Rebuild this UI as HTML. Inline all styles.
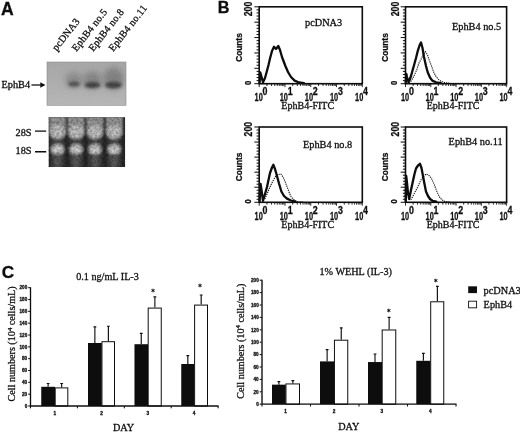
<!DOCTYPE html>
<html><head><meta charset="utf-8"><title>Figure</title>
<style>
html,body{margin:0;padding:0;background:#fff;}
body{width:520px;height:432px;overflow:hidden;}
svg{display:block;}
text{font-family:"Liberation Serif",serif;fill:#0c0c0c;stroke:#0c0c0c;stroke-width:0.28px;}
.ss{font-family:"Liberation Sans",sans-serif;}
</style></head><body>
<svg width="520" height="432" viewBox="0 0 520 432">
<defs>
<filter id="b1" x="-50%" y="-50%" width="200%" height="200%"><feGaussianBlur stdDeviation="1.6"/></filter>
<filter id="b2" x="-50%" y="-50%" width="200%" height="200%"><feGaussianBlur stdDeviation="3"/></filter>
<filter id="b3" x="-50%" y="-50%" width="200%" height="200%"><feGaussianBlur stdDeviation="1.1"/></filter>
<filter id="soft" filterUnits="userSpaceOnUse" x="0" y="0" width="520" height="432"><feGaussianBlur stdDeviation="0.42"/></filter>
<filter id="noiseA" x="0" y="0" width="100%" height="100%">
<feTurbulence type="fractalNoise" baseFrequency="0.55" numOctaves="2" seed="3" result="n"/>
<feColorMatrix in="n" type="matrix" values="0 0 0 0 0.5  0 0 0 0 0.5  0 0 0 0 0.5  0.9 0 0 0 -0.33"/>
</filter>
<filter id="noiseG" x="0" y="0" width="100%" height="100%">
<feTurbulence type="fractalNoise" baseFrequency="0.42" numOctaves="3" seed="7" result="n"/>
<feColorMatrix in="n" type="matrix" values="0 0 0 0 0  0 0 0 0 0  0 0 0 0 0  1.6 0 0 0 -0.55"/>
</filter>
<linearGradient id="blotbg" x1="0" y1="0" x2="0" y2="1">
<stop offset="0" stop-color="#a6a6a6"/><stop offset="0.45" stop-color="#adadad"/><stop offset="1" stop-color="#b6b6b6"/>
</linearGradient>
<clipPath id="cblot"><rect x="47" y="62" width="79" height="43.5"/></clipPath>
<clipPath id="cgel"><rect x="48.5" y="117.3" width="76.6" height="49.8"/></clipPath>
</defs>
<rect width="520" height="432" fill="#fff"/>
<g filter="url(#soft)">

<g id="panelA">
<text class="ss" x="0.9" y="14.7" font-size="17.6" font-weight="bold" fill="#000">A</text>
<text x="56.8" y="51.5" font-size="10.2" letter-spacing="0.2" transform="rotate(-52 56.8 51.5)">pcDNA3</text>
<text x="76.5" y="52" font-size="10.2" letter-spacing="0.2" transform="rotate(-52 76.5 52)">EphB4 no.5</text>
<text x="93.3" y="52" font-size="10.2" letter-spacing="0.2" transform="rotate(-52 93.3 52)">EphB4 no.8</text>
<text x="113.3" y="52" font-size="10.2" letter-spacing="0.2" transform="rotate(-52 113.3 52)">EphB4 no.11</text>
<g clip-path="url(#cblot)">
<rect x="47" y="62" width="79" height="43.5" fill="url(#blotbg)"/>
<ellipse cx="74" cy="80" rx="9" ry="8" fill="#888" filter="url(#b2)"/>
<ellipse cx="92.5" cy="80" rx="10" ry="9" fill="#828282" filter="url(#b2)"/>
<ellipse cx="113.5" cy="78.5" rx="10.5" ry="11" fill="#7e7e7e" filter="url(#b2)"/>
<ellipse cx="74" cy="84" rx="6" ry="2.6" fill="#4a4a4a" filter="url(#b1)"/>
<ellipse cx="92.5" cy="85" rx="8" ry="3" fill="#3a3a3a" filter="url(#b1)"/>
<ellipse cx="113.5" cy="85" rx="8.5" ry="3.2" fill="#3a3a3a" filter="url(#b1)"/>
<rect x="47" y="62" width="79" height="43.5" filter="url(#noiseA)" opacity="0.35"/>
</g>
<rect x="47" y="62" width="79" height="43.5" fill="none" stroke="#8a8a8a" stroke-width="0.6"/>
<text x="1.5" y="88.3" font-size="10.3">EphB4</text>
<path d="M31.5 85 H42" stroke="#111" stroke-width="1.3" fill="none"/>
<path d="M45.5 85 L40.3 82.2 L40.3 87.8 Z" fill="#111"/>
<g clip-path="url(#cgel)">
<rect x="48.5" y="117" width="77" height="51" fill="#292929"/>
<rect x="50.6" y="117" width="14" height="50" fill="#3e3e3e" filter="url(#b3)"/>
<path d="M49.1 116 h17 v16.5 a8.5 7.5 0 0 1 -17 0 z" fill="#959595" filter="url(#b3)"/>
<ellipse cx="57.6" cy="131.5" rx="7" ry="6.5" fill="#c2c2c2" filter="url(#b1)"/>
<ellipse cx="57.6" cy="149.3" rx="7.2" ry="6.6" fill="#9a9a9a" filter="url(#b3)"/>
<ellipse cx="57.6" cy="149.8" rx="5" ry="3.8" fill="#d6d6d6" filter="url(#b1)"/>
<rect x="54.1" y="155" width="7" height="13" fill="#5a5a5a" filter="url(#b1)"/>
<rect x="69.2" y="117" width="14" height="50" fill="#3e3e3e" filter="url(#b3)"/>
<path d="M67.7 116 h17 v16.5 a8.5 7.5 0 0 1 -17 0 z" fill="#959595" filter="url(#b3)"/>
<ellipse cx="76.2" cy="131.5" rx="7" ry="6.5" fill="#c2c2c2" filter="url(#b1)"/>
<ellipse cx="76.2" cy="149.3" rx="7.2" ry="6.6" fill="#9a9a9a" filter="url(#b3)"/>
<ellipse cx="76.2" cy="149.8" rx="5" ry="3.8" fill="#d6d6d6" filter="url(#b1)"/>
<rect x="72.7" y="155" width="7" height="13" fill="#5a5a5a" filter="url(#b1)"/>
<rect x="88" y="117" width="14" height="50" fill="#3e3e3e" filter="url(#b3)"/>
<path d="M86.5 116 h17 v16.5 a8.5 7.5 0 0 1 -17 0 z" fill="#959595" filter="url(#b3)"/>
<ellipse cx="95" cy="131.5" rx="7" ry="6.5" fill="#c2c2c2" filter="url(#b1)"/>
<ellipse cx="95" cy="149.3" rx="7.2" ry="6.6" fill="#9a9a9a" filter="url(#b3)"/>
<ellipse cx="95" cy="149.8" rx="5" ry="3.8" fill="#d6d6d6" filter="url(#b1)"/>
<rect x="91.5" y="155" width="7" height="13" fill="#5a5a5a" filter="url(#b1)"/>
<rect x="107.2" y="117" width="14" height="50" fill="#3e3e3e" filter="url(#b3)"/>
<path d="M105.7 116 h17 v16.5 a8.5 7.5 0 0 1 -17 0 z" fill="#959595" filter="url(#b3)"/>
<ellipse cx="114.2" cy="131.5" rx="7" ry="6.5" fill="#c2c2c2" filter="url(#b1)"/>
<ellipse cx="114.2" cy="149.3" rx="7.2" ry="6.6" fill="#9a9a9a" filter="url(#b3)"/>
<ellipse cx="114.2" cy="149.8" rx="5" ry="3.8" fill="#d6d6d6" filter="url(#b1)"/>
<rect x="110.7" y="155" width="7" height="13" fill="#5a5a5a" filter="url(#b1)"/>
<rect x="48.5" y="117" width="77" height="51" filter="url(#noiseG)" opacity="0.4"/>
</g>
<text x="15.5" y="136" font-size="10.3">28S</text>
<text x="15.5" y="154.3" font-size="10.3">18S</text>
<path d="M35 130.5 h11.2 v1.3 h-11.2z M35 151.1 h11.2 v1.3 h-11.2z" fill="#0c0c0c"/>
</g>
<g id="panelB">
<text class="ss" x="217.7" y="13.4" font-size="16.2" font-weight="bold" fill="#000">B</text>
<rect x="259.2" y="6.8" width="103.1" height="76.9" fill="#fff" stroke="#0a0a0a" stroke-width="1.6"/>
<path d="M259.2 83.7 h-4.8 M259.2 80.62 h-2.6 M259.2 77.55 h-2.6 M259.2 74.47 h-2.6 M259.2 71.4 h-2.6 M259.2 68.32 h-4.8 M259.2 65.24 h-2.6 M259.2 62.17 h-2.6 M259.2 59.09 h-2.6 M259.2 56.02 h-2.6 M259.2 52.94 h-4.8 M259.2 49.86 h-2.6 M259.2 46.79 h-2.6 M259.2 43.71 h-2.6 M259.2 40.64 h-2.6 M259.2 37.56 h-4.8 M259.2 34.48 h-2.6 M259.2 31.41 h-2.6 M259.2 28.33 h-2.6 M259.2 25.26 h-2.6 M259.2 22.18 h-4.8 M259.2 19.1 h-2.6 M259.2 16.03 h-2.6 M259.2 12.95 h-2.6 M259.2 9.88 h-2.6 M259.2 6.8 h-4.8" stroke="#0a0a0a" stroke-width="1" fill="none"/>
<path d="M259.2 83.7 v3.4 M266.96 83.7 v2.3 M271.5 83.7 v2.3 M274.72 83.7 v2.3 M277.22 83.7 v2.3 M279.26 83.7 v2.3 M280.98 83.7 v2.3 M282.48 83.7 v2.3 M283.8 83.7 v2.3 M284.98 83.7 v3.4 M292.73 83.7 v2.3 M297.27 83.7 v2.3 M300.49 83.7 v2.3 M302.99 83.7 v2.3 M305.03 83.7 v2.3 M306.76 83.7 v2.3 M308.25 83.7 v2.3 M309.57 83.7 v2.3 M310.75 83.7 v3.4 M318.51 83.7 v2.3 M323.05 83.7 v2.3 M326.27 83.7 v2.3 M328.77 83.7 v2.3 M330.81 83.7 v2.3 M332.53 83.7 v2.3 M334.03 83.7 v2.3 M335.35 83.7 v2.3 M336.52 83.7 v3.4 M344.28 83.7 v2.3 M348.82 83.7 v2.3 M352.04 83.7 v2.3 M354.54 83.7 v2.3 M356.58 83.7 v2.3 M358.31 83.7 v2.3 M359.8 83.7 v2.3 M361.12 83.7 v2.3 M362.3 83.7 v3.4" stroke="#0a0a0a" stroke-width="0.85" fill="none"/>
<text class="ss" font-size="11.8" font-weight="bold" stroke-width="0.1" x="254.6" y="101.3" textLength="8.2" lengthAdjust="spacingAndGlyphs">10</text><text class="ss" font-size="10.4" font-weight="bold" stroke-width="0.1" x="262.6" y="95.3" textLength="4.9" lengthAdjust="spacingAndGlyphs">0</text>
<text class="ss" font-size="11.8" font-weight="bold" stroke-width="0.1" x="279.73" y="101.3" textLength="8.2" lengthAdjust="spacingAndGlyphs">10</text><text class="ss" font-size="10.4" font-weight="bold" stroke-width="0.1" x="287.73" y="95.3" textLength="4.9" lengthAdjust="spacingAndGlyphs">1</text>
<text class="ss" font-size="11.8" font-weight="bold" stroke-width="0.1" x="304.86" y="101.3" textLength="8.2" lengthAdjust="spacingAndGlyphs">10</text><text class="ss" font-size="10.4" font-weight="bold" stroke-width="0.1" x="312.86" y="95.3" textLength="4.9" lengthAdjust="spacingAndGlyphs">2</text>
<text class="ss" font-size="11.8" font-weight="bold" stroke-width="0.1" x="329.99" y="101.3" textLength="8.2" lengthAdjust="spacingAndGlyphs">10</text><text class="ss" font-size="10.4" font-weight="bold" stroke-width="0.1" x="337.99" y="95.3" textLength="4.9" lengthAdjust="spacingAndGlyphs">3</text>
<text class="ss" font-size="11.8" font-weight="bold" stroke-width="0.1" x="355.12" y="101.3" textLength="8.2" lengthAdjust="spacingAndGlyphs">10</text><text class="ss" font-size="10.4" font-weight="bold" stroke-width="0.1" x="363.12" y="95.3" textLength="4.9" lengthAdjust="spacingAndGlyphs">4</text>
<text x="307.75" y="109" font-size="10" text-anchor="middle">EphB4-FITC</text>
<text class="ss" font-size="9.8" font-weight="bold" stroke="none" text-anchor="middle" textLength="28.6" lengthAdjust="spacingAndGlyphs" transform="translate(241.8 47.55) rotate(-90)">Counts</text>
<text class="ss" font-size="10.6" font-weight="bold" stroke="none" text-anchor="middle" transform="translate(252.2 9) rotate(-90)" textLength="14.4" lengthAdjust="spacingAndGlyphs">200</text>
<text class="ss" font-size="9.2" font-weight="bold" stroke="none" text-anchor="middle" transform="translate(251 82.8) rotate(-90)" textLength="4.2" lengthAdjust="spacingAndGlyphs">0</text>
<text x="305" y="25.5" font-size="10.3">pcDNA3</text>
<path d="M259.6 83 L260.2 72.3 L261 75 L263 82.3 L265 78 L267 70.8 L268.5 65 L270 58.5 L272 51 L274 46.8 L276 49 L278.3 46 L280 50 L282 57 L285.4 66 L288 72 L291 77 L294.6 80.6 L299 82.5 L304 83.2" stroke="#0a0a0a" stroke-width="2.3" fill="none" stroke-linejoin="round" stroke-linecap="round"/>
<rect x="405.5" y="6.8" width="101.1" height="76.9" fill="#fff" stroke="#0a0a0a" stroke-width="1.6"/>
<path d="M405.5 83.7 h-4.8 M405.5 80.62 h-2.6 M405.5 77.55 h-2.6 M405.5 74.47 h-2.6 M405.5 71.4 h-2.6 M405.5 68.32 h-4.8 M405.5 65.24 h-2.6 M405.5 62.17 h-2.6 M405.5 59.09 h-2.6 M405.5 56.02 h-2.6 M405.5 52.94 h-4.8 M405.5 49.86 h-2.6 M405.5 46.79 h-2.6 M405.5 43.71 h-2.6 M405.5 40.64 h-2.6 M405.5 37.56 h-4.8 M405.5 34.48 h-2.6 M405.5 31.41 h-2.6 M405.5 28.33 h-2.6 M405.5 25.26 h-2.6 M405.5 22.18 h-4.8 M405.5 19.1 h-2.6 M405.5 16.03 h-2.6 M405.5 12.95 h-2.6 M405.5 9.88 h-2.6 M405.5 6.8 h-4.8" stroke="#0a0a0a" stroke-width="1" fill="none"/>
<path d="M405.5 83.7 v3.4 M413.11 83.7 v2.3 M417.56 83.7 v2.3 M420.72 83.7 v2.3 M423.17 83.7 v2.3 M425.17 83.7 v2.3 M426.86 83.7 v2.3 M428.33 83.7 v2.3 M429.62 83.7 v2.3 M430.77 83.7 v3.4 M438.38 83.7 v2.3 M442.83 83.7 v2.3 M445.99 83.7 v2.3 M448.44 83.7 v2.3 M450.44 83.7 v2.3 M452.13 83.7 v2.3 M453.6 83.7 v2.3 M454.89 83.7 v2.3 M456.05 83.7 v3.4 M463.66 83.7 v2.3 M468.11 83.7 v2.3 M471.27 83.7 v2.3 M473.72 83.7 v2.3 M475.72 83.7 v2.3 M477.41 83.7 v2.3 M478.88 83.7 v2.3 M480.17 83.7 v2.3 M481.33 83.7 v3.4 M488.93 83.7 v2.3 M493.38 83.7 v2.3 M496.54 83.7 v2.3 M498.99 83.7 v2.3 M500.99 83.7 v2.3 M502.68 83.7 v2.3 M504.15 83.7 v2.3 M505.44 83.7 v2.3 M506.6 83.7 v3.4" stroke="#0a0a0a" stroke-width="0.85" fill="none"/>
<text class="ss" font-size="11.8" font-weight="bold" stroke-width="0.1" x="400.9" y="101.3" textLength="8.2" lengthAdjust="spacingAndGlyphs">10</text><text class="ss" font-size="10.4" font-weight="bold" stroke-width="0.1" x="408.9" y="95.3" textLength="4.9" lengthAdjust="spacingAndGlyphs">0</text>
<text class="ss" font-size="11.8" font-weight="bold" stroke-width="0.1" x="425.54" y="101.3" textLength="8.2" lengthAdjust="spacingAndGlyphs">10</text><text class="ss" font-size="10.4" font-weight="bold" stroke-width="0.1" x="433.54" y="95.3" textLength="4.9" lengthAdjust="spacingAndGlyphs">1</text>
<text class="ss" font-size="11.8" font-weight="bold" stroke-width="0.1" x="450.19" y="101.3" textLength="8.2" lengthAdjust="spacingAndGlyphs">10</text><text class="ss" font-size="10.4" font-weight="bold" stroke-width="0.1" x="458.19" y="95.3" textLength="4.9" lengthAdjust="spacingAndGlyphs">2</text>
<text class="ss" font-size="11.8" font-weight="bold" stroke-width="0.1" x="474.83" y="101.3" textLength="8.2" lengthAdjust="spacingAndGlyphs">10</text><text class="ss" font-size="10.4" font-weight="bold" stroke-width="0.1" x="482.83" y="95.3" textLength="4.9" lengthAdjust="spacingAndGlyphs">3</text>
<text class="ss" font-size="11.8" font-weight="bold" stroke-width="0.1" x="499.47" y="101.3" textLength="8.2" lengthAdjust="spacingAndGlyphs">10</text><text class="ss" font-size="10.4" font-weight="bold" stroke-width="0.1" x="507.47" y="95.3" textLength="4.9" lengthAdjust="spacingAndGlyphs">4</text>
<text x="453.05" y="109" font-size="10" text-anchor="middle">EphB4-FITC</text>
<text class="ss" font-size="9.8" font-weight="bold" stroke="none" text-anchor="middle" textLength="28.6" lengthAdjust="spacingAndGlyphs" transform="translate(388.1 47.55) rotate(-90)">Counts</text>
<text class="ss" font-size="10.6" font-weight="bold" stroke="none" text-anchor="middle" transform="translate(398.5 9) rotate(-90)" textLength="14.4" lengthAdjust="spacingAndGlyphs">200</text>
<text class="ss" font-size="9.2" font-weight="bold" stroke="none" text-anchor="middle" transform="translate(397.3 82.8) rotate(-90)" textLength="4.2" lengthAdjust="spacingAndGlyphs">0</text>
<text x="452" y="30.3" font-size="10.3">EphB4 no.5</text>
<path d="M410.8 81.5 L414 76 L417 69 L419 63 L421.5 58.5 L423.5 54 L425.5 51.7 L427.5 55 L429.2 60 L431.5 66 L433.8 72.3 L436 76.5 L438.5 79.4 L441 81.3 L444.6 82.5 L450 83.3" stroke="#111" stroke-width="1.15" stroke-dasharray="1.2 1" fill="none" stroke-linejoin="round"/>
<path d="M405.8 83 L406.3 73.8 L407 77 L408.6 82.5 L411 76 L413.8 66 L416 58 L417.8 50.8 L419.5 45.5 L421 42.5 L422.5 48 L424 57 L426 66 L427.7 72.3 L430 77.5 L432.3 80.6 L436 82.3 L441 83.1" stroke="#0a0a0a" stroke-width="2.3" fill="none" stroke-linejoin="round" stroke-linecap="round"/>
<rect x="259.2" y="127" width="103.1" height="75.3" fill="#fff" stroke="#0a0a0a" stroke-width="1.6"/>
<path d="M259.2 202.3 h-4.8 M259.2 199.29 h-2.6 M259.2 196.28 h-2.6 M259.2 193.26 h-2.6 M259.2 190.25 h-2.6 M259.2 187.24 h-4.8 M259.2 184.23 h-2.6 M259.2 181.22 h-2.6 M259.2 178.2 h-2.6 M259.2 175.19 h-2.6 M259.2 172.18 h-4.8 M259.2 169.17 h-2.6 M259.2 166.16 h-2.6 M259.2 163.14 h-2.6 M259.2 160.13 h-2.6 M259.2 157.12 h-4.8 M259.2 154.11 h-2.6 M259.2 151.1 h-2.6 M259.2 148.08 h-2.6 M259.2 145.07 h-2.6 M259.2 142.06 h-4.8 M259.2 139.05 h-2.6 M259.2 136.04 h-2.6 M259.2 133.02 h-2.6 M259.2 130.01 h-2.6 M259.2 127 h-4.8" stroke="#0a0a0a" stroke-width="1" fill="none"/>
<path d="M259.2 202.3 v3.4 M266.96 202.3 v2.3 M271.5 202.3 v2.3 M274.72 202.3 v2.3 M277.22 202.3 v2.3 M279.26 202.3 v2.3 M280.98 202.3 v2.3 M282.48 202.3 v2.3 M283.8 202.3 v2.3 M284.98 202.3 v3.4 M292.73 202.3 v2.3 M297.27 202.3 v2.3 M300.49 202.3 v2.3 M302.99 202.3 v2.3 M305.03 202.3 v2.3 M306.76 202.3 v2.3 M308.25 202.3 v2.3 M309.57 202.3 v2.3 M310.75 202.3 v3.4 M318.51 202.3 v2.3 M323.05 202.3 v2.3 M326.27 202.3 v2.3 M328.77 202.3 v2.3 M330.81 202.3 v2.3 M332.53 202.3 v2.3 M334.03 202.3 v2.3 M335.35 202.3 v2.3 M336.52 202.3 v3.4 M344.28 202.3 v2.3 M348.82 202.3 v2.3 M352.04 202.3 v2.3 M354.54 202.3 v2.3 M356.58 202.3 v2.3 M358.31 202.3 v2.3 M359.8 202.3 v2.3 M361.12 202.3 v2.3 M362.3 202.3 v3.4" stroke="#0a0a0a" stroke-width="0.85" fill="none"/>
<text class="ss" font-size="11.8" font-weight="bold" stroke-width="0.1" x="254.6" y="219.9" textLength="8.2" lengthAdjust="spacingAndGlyphs">10</text><text class="ss" font-size="10.4" font-weight="bold" stroke-width="0.1" x="262.6" y="213.9" textLength="4.9" lengthAdjust="spacingAndGlyphs">0</text>
<text class="ss" font-size="11.8" font-weight="bold" stroke-width="0.1" x="279.73" y="219.9" textLength="8.2" lengthAdjust="spacingAndGlyphs">10</text><text class="ss" font-size="10.4" font-weight="bold" stroke-width="0.1" x="287.73" y="213.9" textLength="4.9" lengthAdjust="spacingAndGlyphs">1</text>
<text class="ss" font-size="11.8" font-weight="bold" stroke-width="0.1" x="304.86" y="219.9" textLength="8.2" lengthAdjust="spacingAndGlyphs">10</text><text class="ss" font-size="10.4" font-weight="bold" stroke-width="0.1" x="312.86" y="213.9" textLength="4.9" lengthAdjust="spacingAndGlyphs">2</text>
<text class="ss" font-size="11.8" font-weight="bold" stroke-width="0.1" x="329.99" y="219.9" textLength="8.2" lengthAdjust="spacingAndGlyphs">10</text><text class="ss" font-size="10.4" font-weight="bold" stroke-width="0.1" x="337.99" y="213.9" textLength="4.9" lengthAdjust="spacingAndGlyphs">3</text>
<text class="ss" font-size="11.8" font-weight="bold" stroke-width="0.1" x="355.12" y="219.9" textLength="8.2" lengthAdjust="spacingAndGlyphs">10</text><text class="ss" font-size="10.4" font-weight="bold" stroke-width="0.1" x="363.12" y="213.9" textLength="4.9" lengthAdjust="spacingAndGlyphs">4</text>
<text x="307.75" y="227.6" font-size="10" text-anchor="middle">EphB4-FITC</text>
<text class="ss" font-size="9.8" font-weight="bold" stroke="none" text-anchor="middle" textLength="28.6" lengthAdjust="spacingAndGlyphs" transform="translate(241.8 166.95) rotate(-90)">Counts</text>
<text class="ss" font-size="10.6" font-weight="bold" stroke="none" text-anchor="middle" transform="translate(252.2 129.2) rotate(-90)" textLength="14.4" lengthAdjust="spacingAndGlyphs">200</text>
<text class="ss" font-size="9.2" font-weight="bold" stroke="none" text-anchor="middle" transform="translate(251 201.4) rotate(-90)" textLength="4.2" lengthAdjust="spacingAndGlyphs">0</text>
<text x="303" y="147.8" font-size="10.3">EphB4 no.8</text>
<path d="M264.8 199 L267 194 L269.5 188 L271.5 183.8 L274 179 L276 176 L278.5 174.5 L280.8 174 L283 177 L285.4 182.3 L287.5 188 L289.4 193 L291 196.5 L293 199 L295.5 200.8 L297.7 201.7 L303 202" stroke="#111" stroke-width="1.15" stroke-dasharray="1.2 1" fill="none" stroke-linejoin="round"/>
<path d="M259.6 201.5 L260.5 183.8 L261.5 190 L263 200.8 L265 194 L267 187 L268.5 180 L270 173 L272 167.5 L273.4 164.8 L275 169 L277 176 L279 183.5 L281.4 191.5 L284 196 L287 198.6 L291 200.5 L295.5 201.6" stroke="#0a0a0a" stroke-width="2.3" fill="none" stroke-linejoin="round" stroke-linecap="round"/>
<rect x="405.5" y="127" width="101.1" height="75.3" fill="#fff" stroke="#0a0a0a" stroke-width="1.6"/>
<path d="M405.5 202.3 h-4.8 M405.5 199.29 h-2.6 M405.5 196.28 h-2.6 M405.5 193.26 h-2.6 M405.5 190.25 h-2.6 M405.5 187.24 h-4.8 M405.5 184.23 h-2.6 M405.5 181.22 h-2.6 M405.5 178.2 h-2.6 M405.5 175.19 h-2.6 M405.5 172.18 h-4.8 M405.5 169.17 h-2.6 M405.5 166.16 h-2.6 M405.5 163.14 h-2.6 M405.5 160.13 h-2.6 M405.5 157.12 h-4.8 M405.5 154.11 h-2.6 M405.5 151.1 h-2.6 M405.5 148.08 h-2.6 M405.5 145.07 h-2.6 M405.5 142.06 h-4.8 M405.5 139.05 h-2.6 M405.5 136.04 h-2.6 M405.5 133.02 h-2.6 M405.5 130.01 h-2.6 M405.5 127 h-4.8" stroke="#0a0a0a" stroke-width="1" fill="none"/>
<path d="M405.5 202.3 v3.4 M413.11 202.3 v2.3 M417.56 202.3 v2.3 M420.72 202.3 v2.3 M423.17 202.3 v2.3 M425.17 202.3 v2.3 M426.86 202.3 v2.3 M428.33 202.3 v2.3 M429.62 202.3 v2.3 M430.77 202.3 v3.4 M438.38 202.3 v2.3 M442.83 202.3 v2.3 M445.99 202.3 v2.3 M448.44 202.3 v2.3 M450.44 202.3 v2.3 M452.13 202.3 v2.3 M453.6 202.3 v2.3 M454.89 202.3 v2.3 M456.05 202.3 v3.4 M463.66 202.3 v2.3 M468.11 202.3 v2.3 M471.27 202.3 v2.3 M473.72 202.3 v2.3 M475.72 202.3 v2.3 M477.41 202.3 v2.3 M478.88 202.3 v2.3 M480.17 202.3 v2.3 M481.33 202.3 v3.4 M488.93 202.3 v2.3 M493.38 202.3 v2.3 M496.54 202.3 v2.3 M498.99 202.3 v2.3 M500.99 202.3 v2.3 M502.68 202.3 v2.3 M504.15 202.3 v2.3 M505.44 202.3 v2.3 M506.6 202.3 v3.4" stroke="#0a0a0a" stroke-width="0.85" fill="none"/>
<text class="ss" font-size="11.8" font-weight="bold" stroke-width="0.1" x="400.9" y="219.9" textLength="8.2" lengthAdjust="spacingAndGlyphs">10</text><text class="ss" font-size="10.4" font-weight="bold" stroke-width="0.1" x="408.9" y="213.9" textLength="4.9" lengthAdjust="spacingAndGlyphs">0</text>
<text class="ss" font-size="11.8" font-weight="bold" stroke-width="0.1" x="425.54" y="219.9" textLength="8.2" lengthAdjust="spacingAndGlyphs">10</text><text class="ss" font-size="10.4" font-weight="bold" stroke-width="0.1" x="433.54" y="213.9" textLength="4.9" lengthAdjust="spacingAndGlyphs">1</text>
<text class="ss" font-size="11.8" font-weight="bold" stroke-width="0.1" x="450.19" y="219.9" textLength="8.2" lengthAdjust="spacingAndGlyphs">10</text><text class="ss" font-size="10.4" font-weight="bold" stroke-width="0.1" x="458.19" y="213.9" textLength="4.9" lengthAdjust="spacingAndGlyphs">2</text>
<text class="ss" font-size="11.8" font-weight="bold" stroke-width="0.1" x="474.83" y="219.9" textLength="8.2" lengthAdjust="spacingAndGlyphs">10</text><text class="ss" font-size="10.4" font-weight="bold" stroke-width="0.1" x="482.83" y="213.9" textLength="4.9" lengthAdjust="spacingAndGlyphs">3</text>
<text class="ss" font-size="11.8" font-weight="bold" stroke-width="0.1" x="499.47" y="219.9" textLength="8.2" lengthAdjust="spacingAndGlyphs">10</text><text class="ss" font-size="10.4" font-weight="bold" stroke-width="0.1" x="507.47" y="213.9" textLength="4.9" lengthAdjust="spacingAndGlyphs">4</text>
<text x="453.05" y="227.6" font-size="10" text-anchor="middle">EphB4-FITC</text>
<text class="ss" font-size="9.8" font-weight="bold" stroke="none" text-anchor="middle" textLength="28.6" lengthAdjust="spacingAndGlyphs" transform="translate(388.1 166.95) rotate(-90)">Counts</text>
<text class="ss" font-size="10.6" font-weight="bold" stroke="none" text-anchor="middle" transform="translate(398.5 129.2) rotate(-90)" textLength="14.4" lengthAdjust="spacingAndGlyphs">200</text>
<text class="ss" font-size="9.2" font-weight="bold" stroke="none" text-anchor="middle" transform="translate(397.3 201.4) rotate(-90)" textLength="4.2" lengthAdjust="spacingAndGlyphs">0</text>
<text x="448.6" y="145" font-size="10.3">EphB4 no.11</text>
<path d="M410.8 199.8 L413 196 L415 192 L417 188.5 L419.5 183 L421.5 179 L424 176 L426 174 L429 175.5 L431.4 178.3 L434 184 L436.3 190 L438 194 L440 197.7 L442 199.8 L444.6 201.4 L450 202" stroke="#111" stroke-width="1.15" stroke-dasharray="1.2 1" fill="none" stroke-linejoin="round"/>
<path d="M405.8 201.5 L406.2 176 L407 183 L408 193 L409.2 199 L411 190 L413 180.8 L414.5 174 L416 168.5 L418 165.5 L420 163.8 L421.5 168 L423 176 L424.5 184 L426 191.5 L428 196 L430 199 L432.5 200.8 L436.4 201.7" stroke="#0a0a0a" stroke-width="2.3" fill="none" stroke-linejoin="round" stroke-linecap="round"/>
</g>
<g id="panelC">
<text class="ss" x="1.7" y="278.3" font-size="17.2" font-weight="bold" fill="#000">C</text>
<text x="107.5" y="280.3" font-size="10.2" text-anchor="middle">0.1 ng/mL IL-3</text>
<text font-size="10.15" text-anchor="middle" transform="translate(15.2 343.9) rotate(-90)">Cell numbers (10<tspan font-size="6.8" dy="-3.4">4</tspan><tspan dy="3.4"> cells/mL)</tspan></text>
<rect x="41.25" y="386.8" width="13.75" height="19.2" fill="#0a0a0a"/>
<rect x="55.2" y="387.9" width="12.6" height="18.1" fill="#fff" stroke="#111" stroke-width="1"/>
<path d="M48.12 386.8 V383.5 M46.73 383.5 h2.8 M61.65 387.4 V383.5 M60.25 383.5 h2.8" stroke="#111" stroke-width="1.15" fill="none"/>
<rect x="88" y="343" width="13.75" height="63" fill="#0a0a0a"/>
<rect x="101.95" y="341.7" width="12.55" height="64.3" fill="#fff" stroke="#111" stroke-width="1"/>
<path d="M94.88 343 V326.8 M93.47 326.8 h2.8 M108.38 341.2 V326.2 M106.97 326.2 h2.8" stroke="#111" stroke-width="1.15" fill="none"/>
<rect x="134.5" y="344.2" width="13.5" height="61.8" fill="#0a0a0a"/>
<rect x="148.2" y="308.1" width="13.05" height="97.9" fill="#fff" stroke="#111" stroke-width="1"/>
<path d="M141.25 344.2 V333.4 M139.85 333.4 h2.8 M154.88 307.6 V296.8 M153.47 296.8 h2.8" stroke="#111" stroke-width="1.15" fill="none"/>
<rect x="181.25" y="364" width="13.15" height="42" fill="#0a0a0a"/>
<rect x="194.6" y="305.1" width="12.9" height="100.9" fill="#fff" stroke="#111" stroke-width="1"/>
<path d="M187.82 364 V355.6 M186.42 355.6 h2.8 M201.2 304.6 V295 M199.8 295 h2.8" stroke="#111" stroke-width="1.15" fill="none"/>
<path d="M30.5 287.2 V406 H218.5" stroke="#0a0a0a" stroke-width="1.3" fill="none"/>
<path d="M30.5 406 h-2.3 M30.5 394.17 h-2.3 M30.5 382.34 h-2.3 M30.5 370.51 h-2.3 M30.5 358.68 h-2.3 M30.5 346.85 h-2.3 M30.5 335.02 h-2.3 M30.5 323.19 h-2.3 M30.5 311.36 h-2.3 M30.5 299.53 h-2.3 M30.5 287.7 h-2.3 M30.5 406 v2.3 M77.4 406 v2.3 M124.3 406 v2.3 M171.2 406 v2.3 M218.1 406 v2.3" stroke="#0a0a0a" stroke-width="1" fill="none"/>
<text class="ss" font-size="4.6" font-weight="bold" text-anchor="end" x="27.2" y="407.7">0</text>
<text class="ss" font-size="4.6" font-weight="bold" text-anchor="end" x="27.2" y="395.87">20</text>
<text class="ss" font-size="4.6" font-weight="bold" text-anchor="end" x="27.2" y="384.04">40</text>
<text class="ss" font-size="4.6" font-weight="bold" text-anchor="end" x="27.2" y="372.21">60</text>
<text class="ss" font-size="4.6" font-weight="bold" text-anchor="end" x="27.2" y="360.38">80</text>
<text class="ss" font-size="4.6" font-weight="bold" text-anchor="end" x="27.2" y="348.55">100</text>
<text class="ss" font-size="4.6" font-weight="bold" text-anchor="end" x="27.2" y="336.72">120</text>
<text class="ss" font-size="4.6" font-weight="bold" text-anchor="end" x="27.2" y="324.89">140</text>
<text class="ss" font-size="4.6" font-weight="bold" text-anchor="end" x="27.2" y="313.06">160</text>
<text class="ss" font-size="4.6" font-weight="bold" text-anchor="end" x="27.2" y="301.23">180</text>
<text class="ss" font-size="4.6" font-weight="bold" text-anchor="end" x="27.2" y="289.4">200</text>
<text class="ss" font-size="4.7" font-weight="bold" text-anchor="middle" x="54.7" y="414.6">1</text>
<text class="ss" font-size="4.7" font-weight="bold" text-anchor="middle" x="101.45" y="414.6">2</text>
<text class="ss" font-size="4.7" font-weight="bold" text-anchor="middle" x="147.7" y="414.6">3</text>
<text class="ss" font-size="4.7" font-weight="bold" text-anchor="middle" x="194.1" y="414.6">4</text>
<text x="123.5" y="430.6" font-size="10.2" text-anchor="middle">DAY</text>
<path d="M153 288.7 v3.6 M151.4 289.6 l3.2 1.8 M151.4 291.4 l3.2 -1.8" stroke="#0a0a0a" stroke-width="0.95" fill="none"/>
<path d="M200 283.7 v3.6 M198.4 284.6 l3.2 1.8 M198.4 286.4 l3.2 -1.8" stroke="#0a0a0a" stroke-width="0.95" fill="none"/>
<text x="355.7" y="275.3" font-size="10.2" text-anchor="middle">1% WEHL (IL-3)</text>
<text font-size="10.15" text-anchor="middle" transform="translate(243.6 341.2) rotate(-90)">Cell numbers (10<tspan font-size="6.8" dy="-3.4">4</tspan><tspan dy="3.4"> cells/mL)</tspan></text>
<rect x="272" y="384.67" width="13.75" height="19.53" fill="#0a0a0a"/>
<rect x="285.95" y="383.93" width="13.55" height="20.27" fill="#fff" stroke="#111" stroke-width="1"/>
<path d="M278.88 384.67 V381.57 M277.48 381.57 h2.8 M292.88 383.43 V380.64 M291.48 380.64 h2.8" stroke="#111" stroke-width="1.15" fill="none"/>
<rect x="320" y="361.42" width="14.25" height="42.78" fill="#0a0a0a"/>
<rect x="334.45" y="340.22" width="13.3" height="63.98" fill="#fff" stroke="#111" stroke-width="1"/>
<path d="M327.12 361.42 V349.64 M325.73 349.64 h2.8 M341.25 339.72 V327.94 M339.85 327.94 h2.8" stroke="#111" stroke-width="1.15" fill="none"/>
<rect x="368" y="362.04" width="14" height="42.16" fill="#0a0a0a"/>
<rect x="382.2" y="329.99" width="13.55" height="74.21" fill="#fff" stroke="#111" stroke-width="1"/>
<path d="M375 362.04 V353.98 M373.6 353.98 h2.8 M389.12 329.49 V317.4 M387.73 317.4 h2.8" stroke="#111" stroke-width="1.15" fill="none"/>
<rect x="416.25" y="360.8" width="14.25" height="43.4" fill="#0a0a0a"/>
<rect x="430.7" y="301.78" width="13.05" height="102.42" fill="#fff" stroke="#111" stroke-width="1"/>
<path d="M423.38 360.8 V353.36 M421.98 353.36 h2.8 M437.38 301.28 V286.4 M435.98 286.4 h2.8" stroke="#111" stroke-width="1.15" fill="none"/>
<path d="M262 279.7 V404.2 H456.5" stroke="#0a0a0a" stroke-width="1.3" fill="none"/>
<path d="M262 404.2 h-2.3 M262 391.8 h-2.3 M262 379.4 h-2.3 M262 367 h-2.3 M262 354.6 h-2.3 M262 342.2 h-2.3 M262 329.8 h-2.3 M262 317.4 h-2.3 M262 305 h-2.3 M262 292.6 h-2.3 M262 280.2 h-2.3 M262 404.2 v2.3 M310.5 404.2 v2.3 M359 404.2 v2.3 M407.5 404.2 v2.3 M456 404.2 v2.3" stroke="#0a0a0a" stroke-width="1" fill="none"/>
<text class="ss" font-size="4.6" font-weight="bold" text-anchor="end" x="258.7" y="405.9">0</text>
<text class="ss" font-size="4.6" font-weight="bold" text-anchor="end" x="258.7" y="393.5">20</text>
<text class="ss" font-size="4.6" font-weight="bold" text-anchor="end" x="258.7" y="381.1">40</text>
<text class="ss" font-size="4.6" font-weight="bold" text-anchor="end" x="258.7" y="368.7">60</text>
<text class="ss" font-size="4.6" font-weight="bold" text-anchor="end" x="258.7" y="356.3">80</text>
<text class="ss" font-size="4.6" font-weight="bold" text-anchor="end" x="258.7" y="343.9">100</text>
<text class="ss" font-size="4.6" font-weight="bold" text-anchor="end" x="258.7" y="331.5">120</text>
<text class="ss" font-size="4.6" font-weight="bold" text-anchor="end" x="258.7" y="319.1">140</text>
<text class="ss" font-size="4.6" font-weight="bold" text-anchor="end" x="258.7" y="306.7">160</text>
<text class="ss" font-size="4.6" font-weight="bold" text-anchor="end" x="258.7" y="294.3">180</text>
<text class="ss" font-size="4.6" font-weight="bold" text-anchor="end" x="258.7" y="281.9">200</text>
<text class="ss" font-size="4.7" font-weight="bold" text-anchor="middle" x="285.45" y="412.8">1</text>
<text class="ss" font-size="4.7" font-weight="bold" text-anchor="middle" x="333.95" y="412.8">2</text>
<text class="ss" font-size="4.7" font-weight="bold" text-anchor="middle" x="381.7" y="412.8">3</text>
<text class="ss" font-size="4.7" font-weight="bold" text-anchor="middle" x="430.2" y="412.8">4</text>
<text x="348.8" y="429.6" font-size="10.2" text-anchor="middle">DAY</text>
<path d="M388.8 308.7 v3.6 M387.2 309.6 l3.2 1.8 M387.2 311.4 l3.2 -1.8" stroke="#0a0a0a" stroke-width="0.95" fill="none"/>
<path d="M435.8 278.7 v3.6 M434.2 279.6 l3.2 1.8 M434.2 281.4 l3.2 -1.8" stroke="#0a0a0a" stroke-width="0.95" fill="none"/>
<rect x="468.2" y="286.3" width="8.8" height="6.8" fill="#0a0a0a"/>
<rect x="468.6" y="301.2" width="8" height="6.6" fill="#fff" stroke="#111" stroke-width="0.9"/>
<text x="483.6" y="293.8" font-size="10.3">pcDNA3</text>
<text x="483.6" y="307.5" font-size="10.3">EphB4</text>
</g>
</g>
</svg></body></html>
